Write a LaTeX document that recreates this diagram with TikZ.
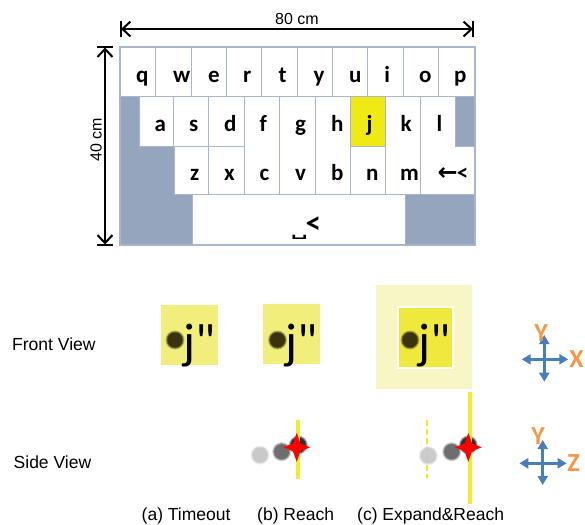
\documentclass[tikz,border=0pt]{standalone}
\usepackage{fontspec}
\setmainfont{Liberation Sans}
\newfontfamily\keyfont{Carlito}
\newfontfamily\symfont{DejaVu Sans}
\usetikzlibrary{arrows.meta,calc}
\definecolor{kbgray}{HTML}{95A5BE}
\definecolor{kbline}{HTML}{A8B5CA}
\definecolor{keyyellow}{HTML}{F0EA14}
\definecolor{softyellow}{HTML}{F2EE7C}
\definecolor{paleyellow}{HTML}{F9F6C6}
\definecolor{brightyellow}{HTML}{EFE93E}
\definecolor{lineyellow}{HTML}{F3EC2C}
\definecolor{axisblue}{HTML}{4A7EBB}
\definecolor{axisorange}{HTML}{F79646}
\definecolor{dotdark}{HTML}{39330F}
\definecolor{dotlight}{HTML}{C9C9C9}
\definecolor{dotmid}{HTML}{6E6E6E}
\definecolor{dotblack}{HTML}{303030}
\newcommand\softdot[3]{%
  \fill[#3, opacity=0.3] (#1,#2) circle (9.5);
  \fill[#3, opacity=0.6] (#1,#2) circle (8.5);
  \fill[#3] (#1,#2) circle (7.5);}
\newcommand\sparkle[2]{%
  \fill[red, shift={(#1,#2)}] (0,-14.5) -- (3.8,-3.8) -- (13.5,0) -- (3.8,3.8) -- (0,14.5)
     -- (-3.8,3.8) -- (-13.5,0) -- (-3.8,-3.8) -- cycle;}
\begin{document}
\begin{tikzpicture}[x=1pt,y=-1pt,
  keybox/.style={fill=white, draw=kbline, line width=1pt},
  keylabel/.style={font=\keyfont\bfseries\fontsize{23}{23}\selectfont, anchor=base west, inner sep=0pt},
  dimline/.style={line width=2pt, {Straight Barb[length=8pt,width=15pt]}-{Straight Barb[length=8pt,width=15pt]}},
  dimbar/.style={line width=2pt},
  plaintext/.style={font=\fontsize{17.5}{17.5}\selectfont, anchor=base west, inner sep=0pt},
  dimtext/.style={font=\fontsize{16}{16}\selectfont, inner sep=0pt},
  fvsq/.style={fill=softyellow, inner sep=0pt, minimum width=57pt, minimum height=60pt},
  jtext/.style={font=\keyfont\fontsize{50}{50}\selectfont, anchor=base west, inner sep=0pt},
  vline/.style={lineyellow, line width=4pt},
  axisarrow/.style={axisblue, line width=3.5pt, {Triangle[length=9pt,width=10pt]}-{Triangle[length=9pt,width=10pt]}},
  axistext/.style={text=axisorange, font=\keyfont\bfseries\fontsize{26}{26}\selectfont, inner sep=0pt}
]
\useasboundingbox (0,0) rectangle (585,524);

% ---------------- keyboard ----------------
\fill[kbgray] (120,47) rectangle (475,245);
\foreach \i in {0,...,9} {
  \draw[keybox] ({120.5+35.35*\i},47) rectangle ({120.5+35.35*(\i+1)},96.5);
}
% row 2 short keys
\draw[keybox] (139.3,96.5) rectangle (173.7,146);
\draw[keybox] (173.7,96.5) rectangle (208.7,146);
\draw[keybox] (208.7,96.5) rectangle (244.3,146);
\draw[keybox, fill=keyyellow] (350.7,96.5) rectangle (385.3,146);
% tall keys
\draw[keybox] (244.3,96.5) rectangle (279.7,194.5);
\draw[keybox] (279.7,96.5) rectangle (315.7,194.5);
\draw[keybox] (315.7,96.5) rectangle (350.7,194.5);
\draw[keybox] (385.3,96.5) rectangle (420.7,194.5);
% row 3 short keys
\draw[keybox] (174.7,146) rectangle (208.7,194.5);
\draw[keybox] (208.7,146) rectangle (244.3,194.5);
\draw[keybox] (350.7,146) rectangle (385.3,194.5);
% l / backspace L-shape
\draw[keybox] (420.7,96.5) -- (455,96.5) -- (455,146) -- (475,146) -- (475,194.5) -- (420.7,194.5) -- cycle;
% space bar
\draw[keybox] (192,194.5) rectangle (405,245);
% frame
\draw[kbline, line width=1.5pt] (120,47) rectangle (475,245);

% key labels
\node[keylabel] (kq) at (136,83) {q};
\node[keylabel] (kw) at (173,83) {w};
\node[keylabel] (ke) at (208,83) {e};
\node[keylabel] (kr) at (243,83) {r};
\node[keylabel] (kt) at (278.5,83) {t};
\node[keylabel] (ky) at (313.5,83) {y};
\node[keylabel] (ku) at (349,83) {u};
\node[keylabel] (ki) at (384.2,83) {i};
\node[keylabel] (ko) at (419,83) {o};
\node[keylabel] (kp) at (454,83) {p};
\node[keylabel] (ka) at (154.5,131.5) {a};
\node[keylabel] (ks) at (189,131.5) {s};
\node[keylabel] (kd) at (224,131.5) {d};
\node[keylabel] (kf) at (259.5,131.5) {f};
\node[keylabel] (kg) at (295,131.5) {g};
\node[keylabel] (kh) at (331,131.5) {h};
\node[keylabel] (kj) at (366.5,131.5) {j};
\node[keylabel] (kk) at (400.5,131.5) {k};
\node[keylabel] (kl) at (436.5,131.5) {l};
\node[keylabel] (kz) at (190,180.5) {z};
\node[keylabel] (kx) at (224,180.5) {x};
\node[keylabel] (kc) at (259.5,180.5) {c};
\node[keylabel] (kv) at (295,180.5) {v};
\node[keylabel] (kb) at (331,180.5) {b};
\node[keylabel] (kn) at (366,180.5) {n};
\node[keylabel] (km) at (400,180.5) {m};
\node[keylabel] (kbs) at (437.5,180.5) {{\symfont\bfseries\fontsize{24}{24}\selectfont ←}\kern-1pt<};
\node[keylabel] (kspace) at (291,236.5) {{\symfont\bfseries\fontsize{22}{22}\selectfont\scalebox{1.05}[0.6]{␣}}\kern-2.2pt\raisebox{3pt}{\fontsize{31}{31}\selectfont <}};

% ---------------- dimension arrows ----------------
\coordinate (hL) at (121,29);
\coordinate (hR) at (473,29);
\draw[dimline] (hL) -- (hR);
\draw[dimbar] ($(hL)+(0,-8)$) -- ($(hL)+(0,8)$);
\draw[dimbar] ($(hR)+(0,-8)$) -- ($(hR)+(0,8)$);
\node[dimtext, anchor=base] (w80) at (297,25) {80 cm};

\coordinate (vT) at (105,47.5);
\coordinate (vB) at (105,244.5);
\draw[dimline] (vT) -- (vB);
\draw[dimbar] ($(vT)+(-8,0)$) -- ($(vT)+(8,0)$);
\draw[dimbar] ($(vB)+(-8,0)$) -- ($(vB)+(8,0)$);
\node[dimtext, anchor=base, rotate=90] (h40) at (101.5,140) {40 cm};

% ---------------- front view ----------------
\node[plaintext] (front) at (12,350) {Front View};

\node[fvsq] (sqa) at (189.5,335) {};
\softdot{175}{340}{dotdark}
\node[jtext] (ja) at (183,358) {j"};

\node[fvsq] (sqb) at (291,334) {};
\softdot{277.5}{340}{dotdark}
\node[jtext] (jb) at (285,358) {j"};

\node[fill=paleyellow, inner sep=0pt, minimum width=96pt, minimum height=104pt] (sqc) at (424,337) {};
\node[fill=brightyellow, draw=white, line width=2pt, inner sep=0pt, minimum width=55pt, minimum height=61pt] (sqcin) at (425.7,337.5) {};
\softdot{410}{340}{dotdark}
\node[jtext] (jc) at (418,358) {j"};

% axes front
\coordinate (c1L) at (521.7,359.3);
\coordinate (c1R) at (568.3,359.3);
\coordinate (c1T) at (544.3,335);
\coordinate (c1B) at (544.3,381.7);
\draw[axisarrow] (c1L) -- (c1R);
\draw[axisarrow] (c1T) -- (c1B);
\node[axistext] (ax1y) at (541,333) {Y};
\node[axistext] (ax1x) at (576.5,359.5) {X};

% ---------------- side view ----------------
\node[plaintext] (side) at (13.5,468) {Side View};

% (b)
\softdot{260}{455}{dotlight}
\softdot{281.7}{451.7}{dotmid}
\softdot{298.3}{445}{dotblack}
\coordinate (bT) at (297.7,420);
\coordinate (bB) at (297.7,479.3);
\draw[vline] (bT) -- (bB);
\sparkle{296.7}{447.3}

% (c)
\coordinate (cdT) at (426.7,420);
\coordinate (cdB) at (426.7,479);
\draw[lineyellow, line width=2pt, dash pattern=on 6pt off 3pt] (cdT) -- (cdB);
\begin{scope}[opacity=0.85]
\softdot{428.3}{455.7}{dotlight}
\end{scope}
\softdot{451.7}{451.7}{dotmid}
\softdot{468.3}{445}{dotblack}
\coordinate (cT) at (470,391.7);
\coordinate (cB) at (470,504);
\draw[vline] (cT) -- (cB);
\sparkle{468.3}{447.3}

% axes side
\coordinate (c2L) at (519.3,463.3);
\coordinate (c2R) at (566.7,463.3);
\coordinate (c2T) at (542.7,440);
\coordinate (c2B) at (542.7,485);
\draw[axisarrow] (c2L) -- (c2R);
\draw[axisarrow] (c2T) -- (c2B);
\node[axistext] (ax2y) at (538,436) {Y};
\node[axistext] (ax2z) at (573.5,463.5) {Z};

% ---------------- captions ----------------
\node[plaintext] (capa) at (141.5,520) {(a) Timeout};
\node[plaintext] (capb) at (257,520) {(b) Reach};
\node[plaintext] (capc) at (357,520) {(c) Expand\&Reach};
\end{tikzpicture}
\end{document}
